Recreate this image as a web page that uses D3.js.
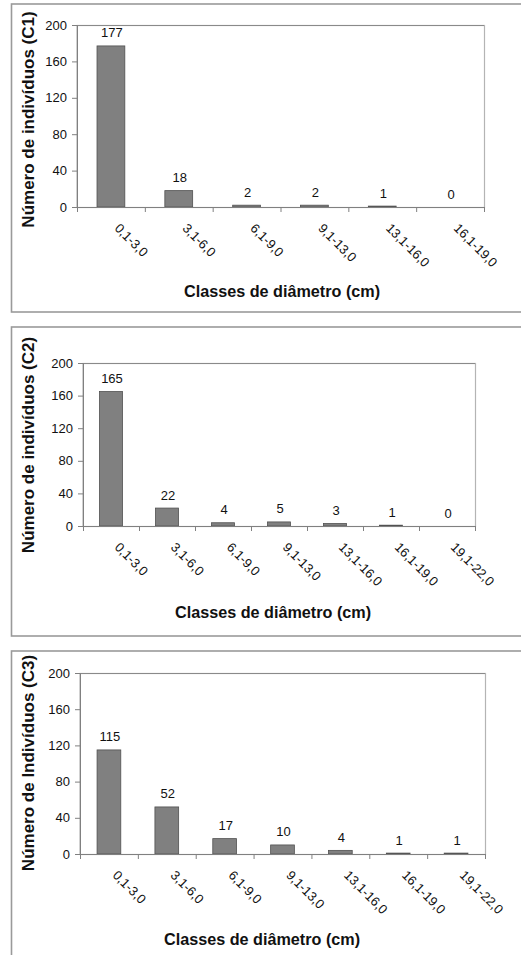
<!DOCTYPE html>
<html>
<head>
<meta charset="utf-8">
<script src="https://cdn.jsdelivr.net/npm/d3@7"></script>
<style>
  html, body { margin: 0; padding: 0; background: #fff; }
  svg { display: block; }
  text { font-family: "Liberation Sans", Arial, Helvetica, sans-serif; fill: #111; }
</style>
</head>
<body>
<svg id="chart" width="521" height="955"></svg>
<script>
// ---- data ----
const categoriesC1 = ["0,1-3,0", "3,1-6,0", "6,1-9,0", "9,1-13,0", "13,1-16,0", "16,1-19,0"];
const categoriesC2 = ["0,1-3,0", "3,1-6,0", "6,1-9,0", "9,1-13,0", "13,1-16,0", "16,1-19,0", "19,1-22,0"];
const categoriesC3 = ["0,1-3,0", "3,1-6,0", "6,1-9,0", "9,1-13,0", "13,1-16,0", "16,1-19,0", "19,1-22,0"];
const valuesC1 = [177, 18, 2, 2, 1, 0];
const valuesC2 = [165, 22, 4, 5, 3, 1, 0];
const valuesC3 = [115, 52, 17, 10, 4, 1, 1];
const yTickValues = [0, 40, 80, 120, 160, 200];
const yTitles = ["Número de indivíduos (C1)", "Número de indivíduos (C2)", "Número de Indivíduos (C3)"];
const xTitle = "Classes de diâmetro (cm)";

// ---- layout ----
const panels = [
  { cats: categoriesC1, vals: valuesC1, yTitle: yTitles[0],
    frameY: 4, frameH: 308, l: 77, r: 484, t: 25, b: 207, tx: 282, ty: 297, yty: 119.5 },
  { cats: categoriesC2, vals: valuesC2, yTitle: yTitles[1],
    frameY: 327, frameH: 309, l: 83, r: 475, t: 363, b: 526, tx: 273, ty: 618, yty: 445 },
  { cats: categoriesC3, vals: valuesC3, yTitle: yTitles[2],
    frameY: 651, frameH: 340, l: 80, r: 485, t: 673, b: 854, tx: 262, ty: 945, yty: 763 }
];

const svg = d3.select("#chart");

panels.forEach(p => {
  const g = svg.append("g");

  // outer frame (extends past right edge)
  g.append("rect")
    .attr("x", 11.5).attr("y", p.frameY)
    .attr("width", 560).attr("height", p.frameH)
    .attr("fill", "none").attr("stroke", "#9a9a9a").attr("stroke-width", 1.6);

  const x = d3.scaleBand().domain(p.cats).range([p.l, p.r]).paddingInner(0).paddingOuter(0);
  const y = d3.scaleLinear().domain([0, 200]).range([p.b, p.t]);

  // plot area border
  g.append("rect")
    .attr("x", p.l).attr("y", p.t + 0.5)
    .attr("width", p.r - p.l + 0.5).attr("height", p.b - p.t)
    .attr("fill", "none").attr("stroke", "#b4b4b4").attr("stroke-width", 1.2);
  g.append("line")
    .attr("x1", p.l).attr("x2", p.r).attr("y1", p.t + 0.5).attr("y2", p.t + 0.5)
    .attr("stroke", "#8a8a8a").attr("stroke-width", 1);

  // bars
  const bw = x.bandwidth() * 0.41;
  g.selectAll(".bar").data(p.vals).join("rect")
    .attr("x", (d, i) => x(p.cats[i]) + (x.bandwidth() - bw) / 2)
    .attr("y", d => y(d))
    .attr("width", bw)
    .attr("height", d => y(0) - y(d))
    .attr("fill", "#808080")
    .attr("stroke", "#505050")
    .attr("stroke-width", 0.8);

  // value labels
  g.selectAll(".val").data(p.vals).join("text")
    .attr("x", (d, i) => x(p.cats[i]) + x.bandwidth() / 2 + 1)
    .attr("y", d => y(d) - 8.5)
    .attr("text-anchor", "middle")
    .style("font-size", "13px")
    .text(d => d);

  // y axis
  const yAxis = d3.axisLeft(y).tickValues(yTickValues).tickSize(5).tickPadding(5);
  const ya = g.append("g").attr("transform", `translate(${p.l},0)`).call(yAxis);
  ya.select(".domain").attr("stroke", "#808080");
  ya.selectAll(".tick line").attr("stroke", "#808080");
  ya.selectAll(".tick text").style("font-size", "13px").attr("fill", "#111")
    .style("font-family", '"Liberation Sans", Arial, sans-serif');

  // x axis line
  g.append("line")
    .attr("x1", p.l - 5).attr("x2", p.r).attr("y1", p.b + 0.5).attr("y2", p.b + 0.5)
    .attr("stroke", "#808080");
  // x ticks at band boundaries
  const bounds = p.cats.map(c => x(c)).concat([p.r]);
  g.selectAll(".xt").data(bounds).join("line")
    .attr("x1", d => d + 0.5).attr("x2", d => d + 0.5)
    .attr("y1", p.b).attr("y2", p.b + 5)
    .attr("stroke", "#808080");

  // rotated category labels
  g.selectAll(".xl").data(p.cats).join("text")
    .attr("transform", c => `translate(${x(c) + x.bandwidth() / 2 + 3},${p.b + 22}) rotate(45)`)
    .attr("text-anchor", "start")
    .style("font-size", "13px")
    .text(c => c);

  // x title
  g.append("text")
    .attr("x", p.tx).attr("y", p.ty)
    .attr("text-anchor", "middle")
    .style("font-size", "16.2px").style("font-weight", "bold")
    .text(xTitle);

  // y title
  g.append("text")
    .attr("transform", `translate(33.5,${p.yty}) rotate(-90)`)
    .attr("text-anchor", "middle")
    .style("font-size", "17px").style("font-weight", "bold")
    .text(p.yTitle);
});
</script>
</body>
</html>
